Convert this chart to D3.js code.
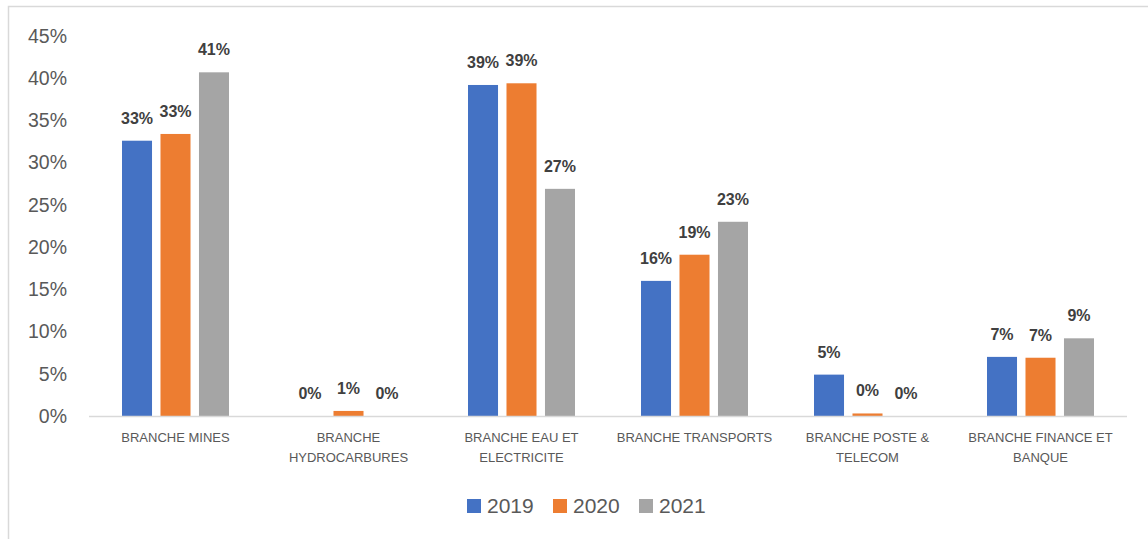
<!DOCTYPE html>
<html>
<head>
<meta charset="utf-8">
<script src="https://cdn.jsdelivr.net/npm/d3@7"></script>
<style>
  body { margin: 0; background: #fff; }
  svg { display: block; font-family: "Liberation Sans", Arial, sans-serif; }
</style>
</head>
<body>
<div id="chart"></div>
<script>
// data
const categories = [
  "BRANCHE MINES",
  "BRANCHE HYDROCARBURES",
  "BRANCHE EAU ET ELECTRICITE",
  "BRANCHE TRANSPORTS",
  "BRANCHE POSTE & TELECOM",
  "BRANCHE FINANCE ET BANQUE"
];
// tick label lines as shown (wrapped)
const categoryLines = [
  ["BRANCHE MINES"],
  ["BRANCHE", "HYDROCARBURES"],
  ["BRANCHE EAU ET", "ELECTRICITE"],
  ["BRANCHE TRANSPORTS"],
  ["BRANCHE POSTE &", "TELECOM"],
  ["BRANCHE FINANCE ET", "BANQUE"]
];
const seriesNames = ["2019", "2020", "2021"];
const values2019 = [0.326, 0.0, 0.392, 0.160, 0.049, 0.070];
const values2020 = [0.334, 0.006, 0.394, 0.191, 0.003, 0.069];
const values2021 = [0.407, 0.0, 0.269, 0.230, 0.0, 0.092];
const yTicks = [0, 0.05, 0.1, 0.15, 0.2, 0.25, 0.3, 0.35, 0.4, 0.45];
const colors = ["#4472C4", "#ED7D31", "#A5A5A5"];

const seriesValues = [values2019, values2020, values2021];
const rows = categories.map((c, i) => ({
  cat: c,
  vals: seriesNames.map((s, j) => ({ series: s, value: seriesValues[j][i] }))
}));

//size
const width = 1148, height = 539;
const plot = { left: 89, right: 1127, top: 36, bottom: 416 };

//scale
const x0 = d3.scaleBand().domain(categories).range([plot.left, plot.right]);
const x1 = d3.scaleBand().domain(seriesNames)
  .range([33, x0.bandwidth() - 33]).paddingInner(0.22);
const y = d3.scaleLinear().domain([0, 0.45]).range([plot.bottom, plot.top]);
const color = d3.scaleOrdinal().domain(seriesNames).range(colors);

const svg = d3.select("#chart").append("svg")
  .attr("width", width).attr("height", height);

// frame
svg.append("rect")
  .attr("x", 8.5).attr("y", 6.5)
  .attr("width", width + 10).attr("height", height + 10)
  .attr("fill", "none").attr("stroke", "#D9D9D9").attr("stroke-width", 1.5);

// y-axis labels
svg.append("g").attr("class", "y-axis")
  .selectAll("text").data(yTicks).join("text")
  .attr("x", 67).attr("y", d => y(d))
  .attr("dy", "0.35em")
  .attr("text-anchor", "end")
  .attr("font-size", 19.5)
  .attr("fill", "#595959")
  .text(d => d3.format(".0%")(d));

// bars
const groups = svg.append("g").attr("class", "mark")
  .selectAll("g").data(rows).join("g")
  .attr("transform", d => `translate(${x0(d.cat)},0)`);

groups.selectAll("rect").data(d => d.vals).join("rect")
  .attr("x", d => x1(d.series))
  .attr("y", d => y(d.value))
  .attr("width", x1.bandwidth())
  .attr("height", d => y(0) - y(d.value))
  .attr("fill", d => color(d.series));

// data labels
groups.selectAll("text").data(d => d.vals).join("text")
  .attr("x", d => x1(d.series) + x1.bandwidth() / 2)
  .attr("y", d => y(d.value) - 17)
  .attr("text-anchor", "middle")
  .attr("font-size", 16)
  .attr("font-weight", "bold")
  .attr("fill", "#404040")
  .text(d => d3.format(".0%")(d.value));

// x-axis line
svg.append("line")
  .attr("x1", plot.left).attr("x2", plot.right)
  .attr("y1", y(0) + 0.5).attr("y2", y(0) + 0.5)
  .attr("stroke", "#D9D9D9").attr("stroke-width", 1.5);

// x-axis labels
svg.append("g").attr("class", "x-axis")
  .selectAll("text").data(categories).join("text")
  .attr("x", d => x0(d) + x0.bandwidth() / 2)
  .attr("y", 442)
  .attr("text-anchor", "middle")
  .attr("font-size", 13)
  .attr("fill", "#595959")
  .each(function (d, i) {
    d3.select(this).selectAll("tspan").data(categoryLines[i]).join("tspan")
      .attr("x", x0(d) + x0.bandwidth() / 2)
      .attr("dy", (l, k) => (k === 0 ? 0 : 20))
      .text(l => l);
  });

// legend
const legend = svg.append("g").attr("class", "legend")
  .selectAll("g").data(seriesNames).join("g")
  .attr("transform", (d, i) => `translate(${467 + i * 86},499)`);
legend.append("rect")
  .attr("width", 14).attr("height", 14)
  .attr("fill", d => color(d));
legend.append("text")
  .attr("x", 20).attr("y", 14)
  .attr("font-size", 21)
  .attr("fill", "#595959")
  .text(d => d);
</script>
</body>
</html>
